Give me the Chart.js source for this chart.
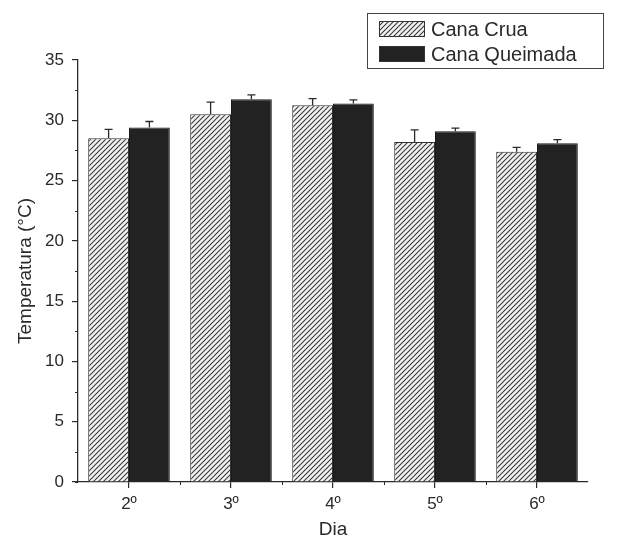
<!DOCTYPE html>
<html><head><meta charset="utf-8">
<script src="https://cdn.jsdelivr.net/npm/chart.js@4/dist/chart.umd.min.js"></script>
<style>html,body{margin:0;padding:0;background:#fff}#w{width:644px;height:541px}</style>
</head><body><div id="w"><canvas id="c"></canvas></div>
<script>
const categories = ['2º','3º','4º','5º','6º'];
const seriesNames = ['Cana Crua','Cana Queimada'];
const cruaValues = [28.5, 30.5, 31.25, 28.2, 27.4];
const cruaErrors = [0.75, 1.0, 0.55, 1.0, 0.35];
const queimadaValues = [29.4, 31.75, 31.4, 29.1, 28.1];
const queimadaErrors = [0.5, 0.35, 0.3, 0.25, 0.3];
const yTicks = [0,5,10,15,20,25,30,35];

const FONT = "'Liberation Sans', Arial, sans-serif";
const INK = '#2a2a2a';

function hatch(){
  const s=5, c=document.createElement('canvas'); c.width=s; c.height=s;
  const g=c.getContext('2d');
  g.fillStyle='#f2f2f2'; g.fillRect(0,0,s,s);
  g.strokeStyle='#3a3a3a'; g.lineWidth=1.1;
  g.beginPath();
  g.moveTo(0,s); g.lineTo(s,0);
  g.moveTo(-1,1); g.lineTo(1,-1);
  g.moveTo(s-1,s+1); g.lineTo(s+1,s-1);
  g.stroke();
  return g.createPattern(c,'repeat');
}
const ctx0=document.getElementById('c').getContext('2d');
const hatchPat = hatch();
const errs=[cruaErrors, queimadaErrors];

const errorBars={id:'errorBars',afterDatasetsDraw(chart){
  const g=chart.ctx, y=chart.scales.y;
  chart.data.datasets.forEach((ds,di)=>{
    const meta=chart.getDatasetMeta(di);
    meta.data.forEach((el,i)=>{
      const top=y.getPixelForValue(ds.data[i]+errs[di][i]);
      g.save(); g.strokeStyle=INK; g.lineWidth=1.3;
      g.beginPath(); g.moveTo(el.x,el.y); g.lineTo(el.x,top);
      g.moveTo(el.x-4,top); g.lineTo(el.x+4,top); g.stroke(); g.restore();
    });
  });
}};
const minorTicks={id:'minorTicks',afterDraw(chart){
  const g=chart.ctx, x=chart.scales.x, y=chart.scales.y, a=chart.chartArea;
  g.save(); g.strokeStyle=INK; g.lineWidth=1;
  g.beginPath();
  for(let k=0;k<yTicks.length-1;k++){
    const v=(yTicks[k]+yTicks[k+1])/2, p=Math.round(y.getPixelForValue(v))+0.5;
    g.moveTo(a.left,p); g.lineTo(a.left-3,p);
  }
  for(let i=0;i<categories.length-1;i++){
    const p=Math.round((x.getPixelForValue(i)+x.getPixelForValue(i+1))/2)+0.5;
    g.moveTo(p,a.bottom); g.lineTo(p,a.bottom+3);
  }
  g.moveTo(a.left-3,a.bottom+0.5); g.lineTo(a.left,a.bottom+0.5);
  g.stroke();
  // legend
  const bx=367.5, by=13.5, bw=236, bh=55;
  g.fillStyle='#fff'; g.fillRect(bx,by,bw,bh);
  g.strokeStyle='#444'; g.lineWidth=1; g.strokeRect(bx,by,bw,bh);
  const fills=[hatchPat,'#222'];
  seriesNames.forEach((n,i)=>{
    const sy=21+i*25;
    g.fillStyle=fills[i]; g.fillRect(379,sy,46,16);
    g.strokeStyle='#333'; g.strokeRect(379.5,sy+0.5,45,15);
    g.fillStyle=INK; g.font='20px '+FONT; g.textBaseline='middle'; g.textAlign='left';
    g.fillText(n,431,sy+9);
  });
  g.restore();
}};

new Chart(ctx0,{
  type:'bar',
  data:{labels:categories,datasets:[
    {label:seriesNames[0],data:cruaValues,backgroundColor:hatchPat,borderColor:'#333',borderWidth:1,borderSkipped:'bottom'},
    {label:seriesNames[1],data:queimadaValues,backgroundColor:'#222',borderColor:'#1a1a1a',borderWidth:1,borderSkipped:'bottom'}
  ]},
  options:{
    responsive:true,maintainAspectRatio:false,animation:false,
    layout:{padding:{top:60,right:56,left:0,bottom:0}},
    datasets:{bar:{categoryPercentage:0.8,barPercentage:1.0}},
    plugins:{legend:{display:false},tooltip:{enabled:false}},
    scales:{
      x:{
        grid:{display:true,drawOnChartArea:false,drawTicks:true,tickLength:6,color:INK,offset:false,lineWidth:1.2},
        border:{display:true,color:INK,width:1.3},
        ticks:{color:INK,font:{family:FONT,size:17},padding:6},
        title:{display:true,text:'Dia',color:INK,font:{family:FONT,size:19},padding:{top:-2,bottom:0}},
        afterFit(s){s.height=59;}
      },
      y:{
        min:0,max:35,
        afterBuildTicks(s){s.ticks=yTicks.map(v=>({value:v}));},
        grid:{display:true,drawOnChartArea:false,drawTicks:true,tickLength:6,color:INK,lineWidth:1.2},
        border:{display:true,color:INK,width:1.3},
        ticks:{color:INK,font:{family:FONT,size:17},padding:8},
        title:{display:true,text:'Temperatura (°C)',color:INK,font:{family:FONT,size:19},padding:{top:14,bottom:0}},
        afterFit(s){s.width=78;}
      }
    }
  },
  plugins:[errorBars,minorTicks]
});
</script></body></html>
